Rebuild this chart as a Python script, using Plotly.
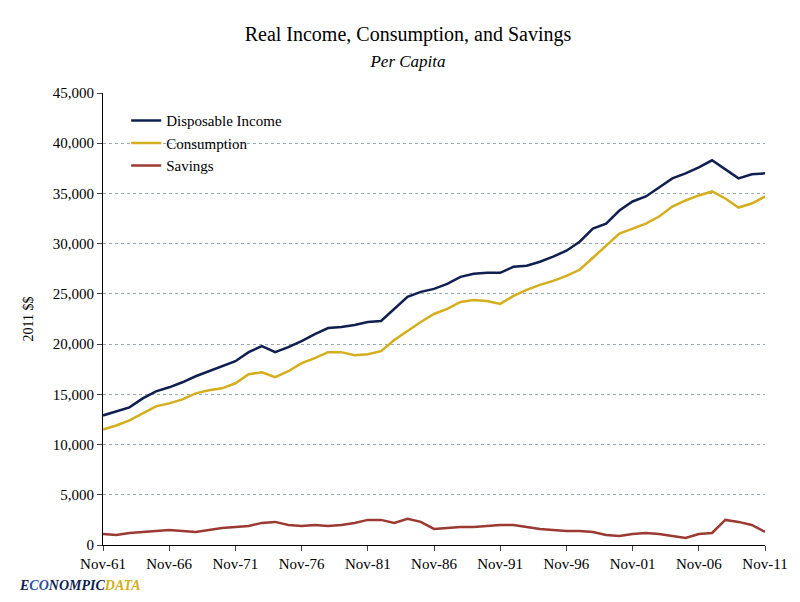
import plotly.graph_objects as go

years = list(range(1961, 2012))
dates = [f"{y}-11-01" for y in years]

income = [12900, 13300, 13700, 14600, 15300, 15700, 16200, 16800, 17300, 17800,
          18300, 19200, 19800, 19200, 19700, 20300, 21000, 21600, 21700, 21900,
          22200, 22300, 23500, 24700, 25200, 25500, 26000, 26700, 27000, 27100,
          27100, 27700, 27800, 28200, 28700, 29300, 30200, 31500, 32000, 33300,
          34200, 34700, 35600, 36500, 37000, 37600, 38300, 37400, 36500, 36900, 37000]
consumption = [11500, 11900, 12400, 13100, 13800, 14100, 14500, 15100, 15400, 15600,
               16100, 17000, 17200, 16700, 17300, 18100, 18600, 19200, 19200, 18900,
               19000, 19300, 20400, 21300, 22200, 23000, 23500, 24200, 24400, 24300,
               24000, 24800, 25400, 25900, 26300, 26800, 27400, 28600, 29800, 31000,
               31500, 32000, 32700, 33700, 34300, 34800, 35200, 34500, 33600, 34000, 34700]
savings = [1100, 1000, 1200, 1300, 1400, 1500, 1400, 1300, 1500, 1700,
           1800, 1900, 2200, 2300, 2000, 1900, 2000, 1900, 2000, 2200,
           2500, 2500, 2200, 2600, 2300, 1600, 1700, 1800, 1800, 1900,
           2000, 2000, 1800, 1600, 1500, 1400, 1400, 1300, 1000, 900,
           1100, 1200, 1100, 900, 700, 1100, 1200, 2500, 2300, 2000, 1300]

tick_vals = [f"{y}-11-01" for y in range(1961, 2012, 5)]
tick_text = [f"Nov-{str(y)[2:]}" for y in range(1961, 2012, 5)]

fig = go.Figure()
fig.add_trace(go.Scatter(x=dates, y=income, mode="lines", name="Disposable Income",
                         line=dict(color="#0f1f4f", width=2.5)))
fig.add_trace(go.Scatter(x=dates, y=consumption, mode="lines", name="Consumption",
                         line=dict(color="#d4ae1c", width=2.5)))
fig.add_trace(go.Scatter(x=dates, y=savings, mode="lines", name="Savings",
                         line=dict(color="#9b3a32", width=2.5)))

font = "Liberation Serif, DejaVu Serif, serif"
fig.update_layout(
    width=800, height=602,
    paper_bgcolor="white", plot_bgcolor="white",
    font=dict(family=font, size=14, color="black"),
    margin=dict(l=95, r=43, t=85, b=65, autoexpand=False),
    title=dict(text="Real Income, Consumption, and Savings<br><i style='font-size:17px'>Per Capita</i>",
               x=0.5, xanchor="center", y=0.945, yanchor="top", font=dict(size=20)),
    legend=dict(x=0.035, y=0.975, xanchor="left", yanchor="top", bgcolor="rgba(0,0,0,0)",
                font=dict(size=15)),
    xaxis=dict(range=["1961-11-01", "2011-11-01"], tickvals=tick_vals, ticktext=tick_text,
               showgrid=False, showline=True, linecolor="black", ticks="outside",
               tickfont=dict(size=15)),
    yaxis=dict(range=[0, 45000], dtick=5000, tickformat=",", showgrid=True,
               gridcolor="#9ab", griddash="dot", showline=True, linecolor="black",
               ticks="outside", tickfont=dict(size=15),
               title=dict(text="2011 $$", font=dict(size=14))),
)
fig.add_annotation(text="<b><i>E<span style='color:#2a4fa0'>CO</span>NOMPIC<span style='color:#d4ae1c'>DATA</span></i></b>",
                   xref="paper", yref="paper", x=-0.13, y=-0.09, xanchor="left", yanchor="middle",
                   showarrow=False, font=dict(size=14, color="#0f1f4f"))

fig.write_html("out.html")
